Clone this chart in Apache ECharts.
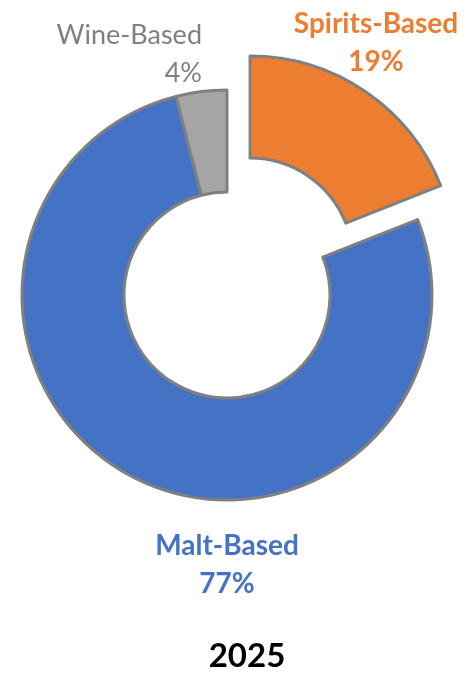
<!DOCTYPE html>
<html>
<head>
<meta charset="utf-8">
<script src="https://cdn.jsdelivr.net/npm/echarts@6/dist/echarts.min.js"></script>
<style>
  html, body { margin: 0; padding: 0; background: #fff; }
  #myChart { width: 465px; height: 674px; }
</style>
</head>
<body>
<div id="myChart"></div>
<script>
// data (share of 2025)
var categories = ['Spirits-Based', 'Malt-Based', 'Wine-Based'];
var values = [19, 77, 4];
var colors = ['#ED7D31', '#4472C4', '#A5A5A5'];
var year = '2025';

// label boxes: anchor x, top y, alignment
var labelPos = [
    { x: 376, y: 5, align: 'center' },
    { x: 227, y: 527, align: 'center' },
    { x: 202, y: 16, align: 'right' }
];
var labelWeight = ['bold', 'bold', 'normal'];
var labelSize = [28, 28, 27];
var labelColor = ['#ED7D31', '#4472C4', '#7F7F7F'];

var myChart = echarts.init(document.getElementById('myChart'));

var total = 0;
for (var k = 0; k < values.length; k++) total += values[k];

var seriesData = [];
var titles = [];
for (var i = 0; i < categories.length; i++) {
    seriesData.push({
        name: categories[i],
        value: values[i],
        selected: i == 0,
        itemStyle: { color: colors[i] }
    });
    // slice labels
    titles.push({
        text: categories[i] + '\n' + Math.round(values[i] / total * 100) + '%',
        left: labelPos[i].x,
        top: labelPos[i].y,
        padding: 0,
        textAlign: labelPos[i].align,
        textStyle: {
            fontFamily: 'Lato',
            fontSize: labelSize[i],
            fontWeight: labelWeight[i],
            color: labelColor[i],
            lineHeight: 38
        }
    });
}

titles.push({
    text: year,
    left: 242,
    top: 635,
    textAlign: 'center',
    textStyle: {
        fontFamily: 'Lato',
        fontSize: 33,
        fontWeight: 'bold',
        color: '#000'
    }
});

var option = {
    animation: false,
    backgroundColor: '#fff',
    title: titles,
    series: [
        {
            type: 'pie',
            center: [227, 295],
            radius: [103, 205],
            startAngle: 90,
            clockwise: true,
            selectedMode: 'single',
            selectedOffset: 41,
            itemStyle: {
                borderColor: '#808080',
                borderWidth: 3
            },
            label: { show: false },
            labelLine: { show: false },
            emphasis: { disabled: true },
            data: seriesData
        }
    ]
};
myChart.setOption(option);
</script>
</body>
</html>
